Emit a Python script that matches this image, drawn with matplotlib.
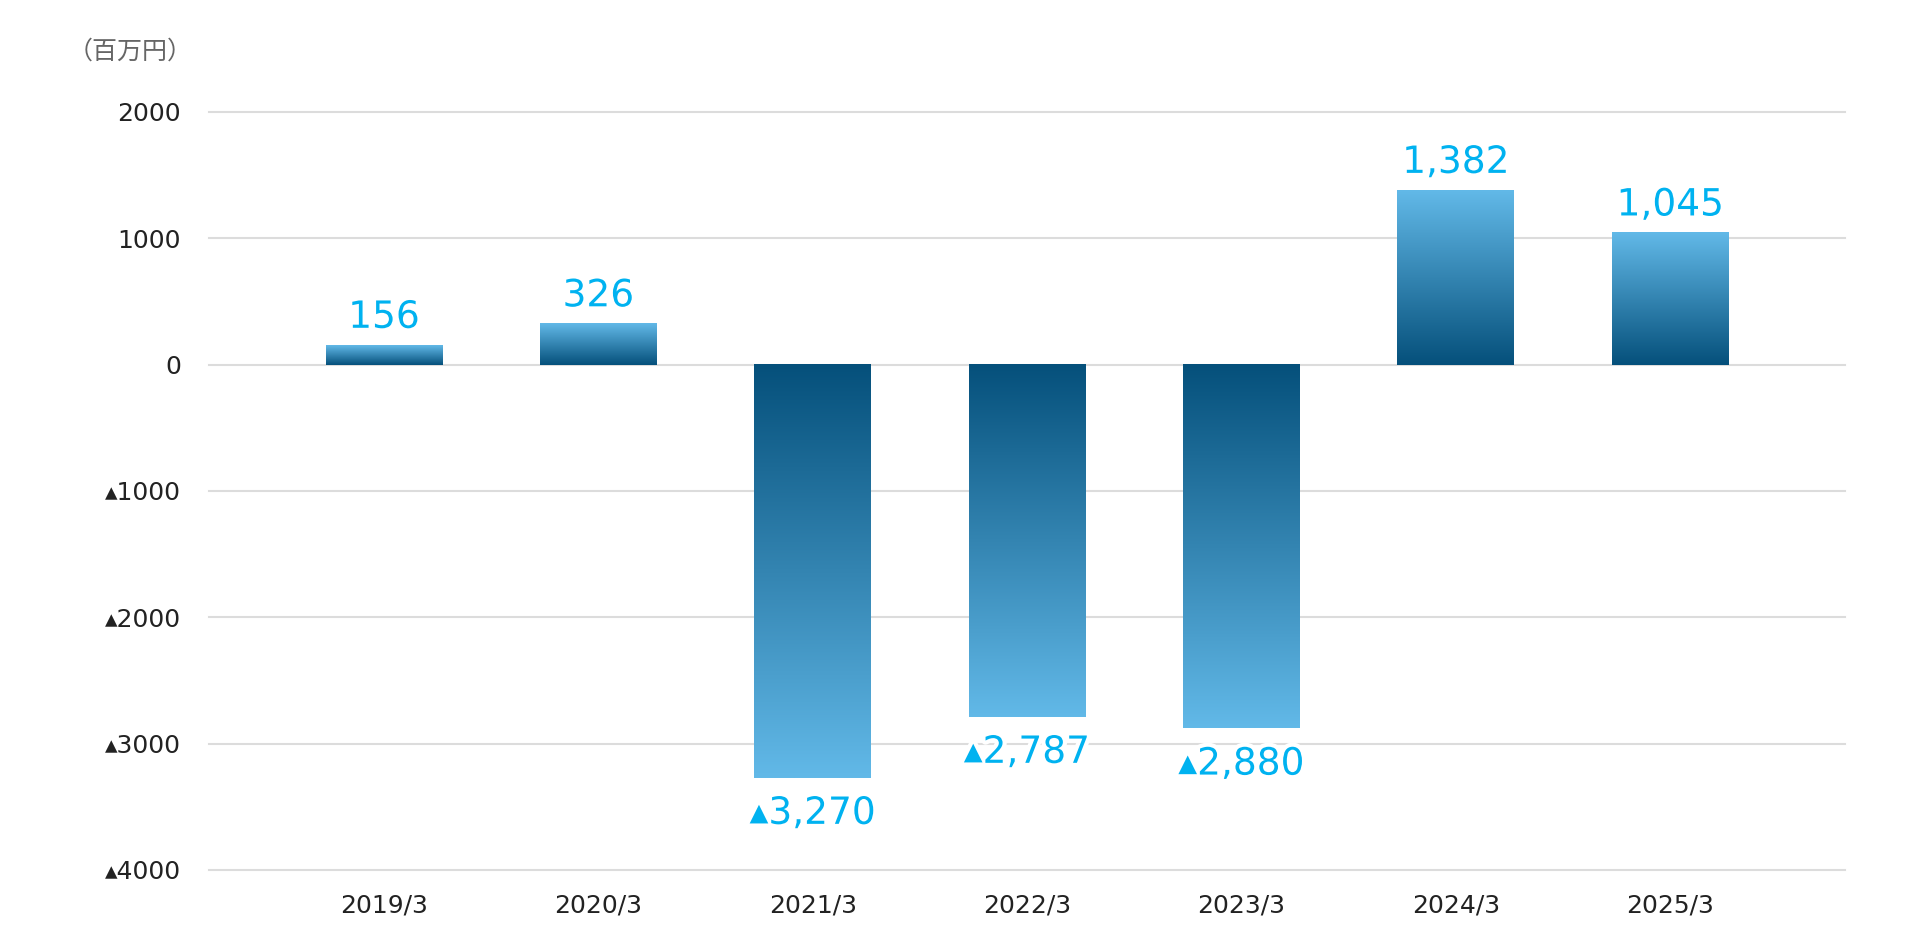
import numpy as np
import matplotlib.pyplot as plt
import matplotlib.patheffects as pe
from matplotlib.colors import LinearSegmentedColormap
from matplotlib.ticker import FuncFormatter

# data (百万円)
years = ['2019/3', '2020/3', '2021/3', '2022/3', '2023/3', '2024/3', '2025/3']
values = [156, 326, -3270, -2787, -2880, 1382, 1045]
yticks = [2000, 1000, 0, -1000, -2000, -3000, -4000]
unit_label = '（百万円）'

plt.rcParams['font.family'] = ['DejaVu Sans']

dark = '#05507b'
light = '#62b9e8'
label_color = '#00b2f0'
cmap = LinearSegmentedColormap.from_list('bar', [dark, light])

fig = plt.figure(figsize=(19.3, 9.4), dpi=100)
ax = fig.add_axes([0.1083, 0.0745, 0.8477, 0.8065])

x = np.arange(len(years))
width = 0.545
grad = np.linspace(0, 1, 256).reshape(-1, 1)
halo = [pe.withStroke(linewidth=6, foreground='white')]

for xi, v in zip(x, values):
    # dark at zero -> light at the end of the bar
    img = grad[::-1] if v >= 0 else grad
    ax.imshow(img, extent=[xi - width / 2, xi + width / 2, min(0, v), max(0, v)],
              aspect='auto', cmap=cmap, origin='upper', zorder=3)
    if v >= 0:
        ax.text(xi, v + 135, f'{v:,}', ha='center', va='baseline',
                fontsize=27, color=label_color, zorder=4, path_effects=halo)
    else:
        ax.text(xi, v - 365, f'▴{abs(v):,}', ha='center', va='baseline',
                fontsize=27, color=label_color, zorder=4, path_effects=halo)

for t in yticks:
    ax.axhline(t, color='#dcdcdc', lw=1.5, zorder=1, clip_on=False)

ax.set_xlim(-0.816, 6.816)
ax.set_ylim(-4000, 2000)
ax.set_xticks(x)
ax.set_xticklabels(years)
ax.set_yticks(yticks)
ax.yaxis.set_major_formatter(FuncFormatter(lambda v, p: f'{int(v)}' if v >= 0 else f'▴{int(abs(v))}'))
ax.tick_params(axis='y', length=0, pad=20, labelsize=18, labelcolor='#222222')
ax.tick_params(axis='x', length=0, pad=17, labelsize=18, labelcolor='#222222')
for s in ax.spines.values():
    s.set_visible(False)

fig.text(0.0674, 0.945, unit_label, fontsize=18, color='#666666',
         family=['Noto Sans CJK JP', 'DejaVu Sans'], va='center', ha='center')

fig.savefig('out.png', dpi=100)
